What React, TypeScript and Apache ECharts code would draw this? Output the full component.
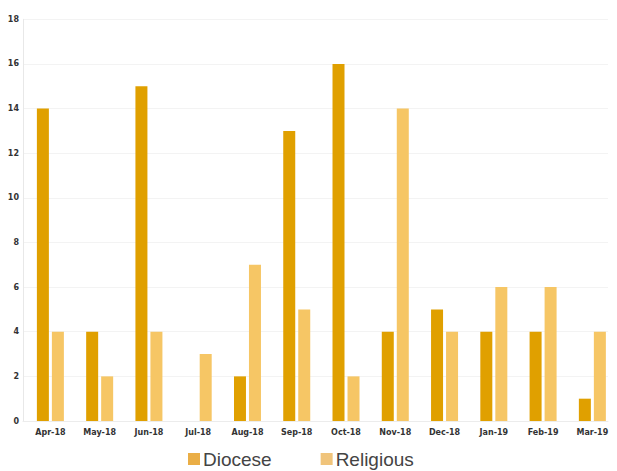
import React, { useEffect, useRef } from "react";
import * as echarts from "echarts";

// Monthly counts, April 2018 – March 2019
const months = [
  "Apr-18", "May-18", "Jun-18", "Jul-18", "Aug-18", "Sep-18",
  "Oct-18", "Nov-18", "Dec-18", "Jan-19", "Feb-19", "Mar-19",
];
const diocese = [14, 4, 15, 0, 2, 13, 16, 4, 5, 4, 4, 1];
const religious = [4, 2, 4, 3, 7, 5, 2, 14, 4, 6, 6, 4];
const yMin = 0;
const yMax = 18;
const yStep = 2;

const dioceseColor = "#E0A000";
const religiousColor = "#F6C665";
const dioceseKey = "#EAAE46";
const religiousKey = "#F0C47B";

const tickFont = {
  fontFamily: "DejaVu Sans",
  fontWeight: "bold" as const,
  fontSize: 8,
  color: "#333333",
};

export default function App() {
  const ref = useRef<HTMLDivElement>(null);

  useEffect(() => {
    if (!ref.current) return;
    const chart = echarts.init(ref.current, undefined, { renderer: "svg" });
    const plotTop = 19.3;
    const plotBottom = 50;
    chart.setOption({
      animation: false,
      backgroundColor: "#ffffff",
      legend: {
        left: 188,
        top: 449,
        padding: 0,
        itemWidth: 12,
        itemHeight: 12,
        itemGap: 49,
        icon: "rect",
        textStyle: {
          fontFamily: "Liberation Sans",
          fontSize: 19,
          lineHeight: 20,
          color: "#444444",
          padding: [0, 0, 0, -2],
        },
        data: [
          { name: "Diocese", itemStyle: { color: dioceseKey } },
          { name: "Religious", itemStyle: { color: religiousKey } },
        ],
      },
      grid: [
        // bars
        { left: 25.75, width: 594, top: plotTop, bottom: plotBottom },
        // background rules and value labels
        { left: 23, right: 9, top: plotTop, bottom: plotBottom },
      ],
      xAxis: [
        {
          type: "category",
          gridIndex: 0,
          data: months,
          axisLine: { show: false },
          axisTick: { show: false },
          axisLabel: { ...tickFont, margin: 7, interval: 0 },
        },
        {
          type: "category",
          gridIndex: 1,
          data: months,
          axisLine: { show: true, lineStyle: { color: "#ececec", width: 1 } },
          axisTick: { show: false },
          axisLabel: { show: false },
        },
      ],
      yAxis: [
        {
          type: "value",
          gridIndex: 0,
          min: yMin,
          max: yMax,
          interval: yStep,
          show: false,
          splitLine: { show: false },
        },
        {
          type: "value",
          gridIndex: 1,
          min: yMin,
          max: yMax,
          interval: yStep,
          axisLine: { show: true, lineStyle: { color: "#e8e8e8", width: 1 } },
          axisTick: { show: false },
          axisLabel: { ...tickFont, margin: 4 },
          splitLine: { show: true, lineStyle: { color: "#f3f3f3", width: 1 } },
        },
      ],
      series: [
        {
          name: "Diocese",
          type: "bar",
          xAxisIndex: 0,
          yAxisIndex: 0,
          data: diocese,
          barWidth: 12,
          barGap: "25%",
          itemStyle: { color: dioceseColor },
        },
        {
          name: "Religious",
          type: "bar",
          xAxisIndex: 0,
          yAxisIndex: 0,
          data: religious,
          barWidth: 12,
          barGap: "25%",
          itemStyle: { color: religiousColor },
        },
      ],
    });
    return () => chart.dispose();
  }, []);

  return (
    <div
      ref={ref}
      style={{ position: "fixed", left: 0, top: 0, width: 617, height: 471, overflow: "hidden" }}
    />
  );
}
